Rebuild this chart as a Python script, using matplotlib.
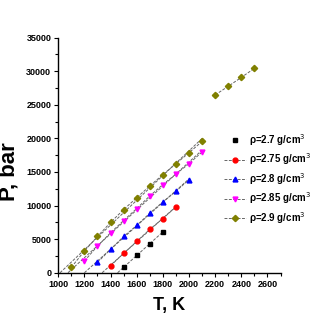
import numpy as np
import matplotlib
matplotlib.use('Agg')
import matplotlib.pyplot as plt
from matplotlib.ticker import MultipleLocator

plt.rcParams['font.family'] = ['Liberation Sans', 'DejaVu Sans']

# data
T_27 = [1500, 1600, 1700, 1800]
P_27 = [800, 2580, 4300, 6080]
T_275 = [1400, 1500, 1600, 1700, 1800, 1900]
P_275 = [1040, 2880, 4660, 6450, 8070, 9790]
T_28 = [1300, 1400, 1500, 1600, 1700, 1800, 1900, 2000]
P_28 = [1540, 3470, 5400, 7030, 8860, 10540, 12120, 13860]
T_285 = [1200, 1300, 1400, 1500, 1600, 1700, 1800, 1900, 2000, 2100]
P_285 = [1740, 3960, 5940, 7770, 9550, 11430, 13120, 14690, 16230, 17980]
T_29 = [1100, 1200, 1300, 1400, 1500, 1600, 1700, 1800, 1900, 2000, 2100]
P_29 = [800, 3220, 5400, 7480, 9400, 11160, 12910, 14600, 16230, 17860, 19540]
T_29_hi = [2200, 2300, 2400, 2500]
P_29_hi = [26470, 27750, 29080, 30420]

labels = ['ρ=2.7 g/cm$^3$', 'ρ=2.75 g/cm$^3$', 'ρ=2.8 g/cm$^3$',
          'ρ=2.85 g/cm$^3$', 'ρ=2.9 g/cm$^3$']
colors = ['black', 'red', 'blue', 'magenta', '#808000']
markers = ['s', 'o', '^', 'v', 'D']
series = [(T_27, P_27), (T_275, P_275), (T_28, P_28), (T_285, P_285), (T_29, P_29)]

fig = plt.figure(figsize=(3.27, 3.27), dpi=100)
ax = fig.add_axes([0.178, 0.166, 0.680, 0.719])

line_kw = dict(color='#666666', lw=0.7, ls=(0, (3, 1.5)))

for i, (T, P) in enumerate(series):
    T = np.array(T, float)
    P = np.array(P, float)
    # fitted trend line down to P = 0
    k, b = np.polyfit(T, P, 1)
    t0 = -b / k
    ax.plot([t0, T[-1]], [0, k * T[-1] + b], zorder=1, **line_kw)
    ms = 3.5 if markers[i] != 'D' else 3.2
    if i == 0:
        ax.plot(T, P, ls='none', marker=markers[i], color=colors[i],
                ms=ms, label=labels[i], zorder=3)
    else:
        ax.plot(T, P, marker=markers[i], mfc=colors[i], mec=colors[i],
                ms=ms, label=labels[i], zorder=3, **line_kw)

ax.plot(T_29_hi, P_29_hi, marker='D', mfc=colors[4], mec=colors[4], ms=3.2,
        zorder=3, **line_kw)

ax.set_xlim(1000, 2700)
ax.set_ylim(0, 35000)
ax.xaxis.set_major_locator(MultipleLocator(200))
ax.xaxis.set_minor_locator(MultipleLocator(100))
ax.yaxis.set_major_locator(MultipleLocator(5000))
ax.yaxis.set_minor_locator(MultipleLocator(2500))
ax.tick_params(which='major', length=3, width=0.8, labelsize=6.5, pad=2)
ax.tick_params(which='minor', length=2, width=0.8)
for lab in ax.get_xticklabels() + ax.get_yticklabels():
    lab.set_fontweight('bold')

ax.spines['top'].set_visible(False)
ax.spines['right'].set_visible(False)
ax.spines['left'].set_linewidth(1.0)
ax.spines['bottom'].set_linewidth(1.0)

ax.set_xlabel('T, K', fontsize=13, fontweight='bold')
ax.set_ylabel('P, bar', fontsize=16, fontweight='bold')
ax.xaxis.set_label_coords(0.5, -0.105)
ax.yaxis.set_label_coords(-0.172, 0.43)

leg = ax.legend(loc='upper left', bbox_to_anchor=(0.73, 0.615), frameon=False,
                fontsize=7, handlelength=2.2, handletextpad=0.3,
                labelspacing=0.38, borderaxespad=0)
for t in leg.get_texts():
    t.set_fontweight('bold')

fig.savefig('out.png', dpi=100)
